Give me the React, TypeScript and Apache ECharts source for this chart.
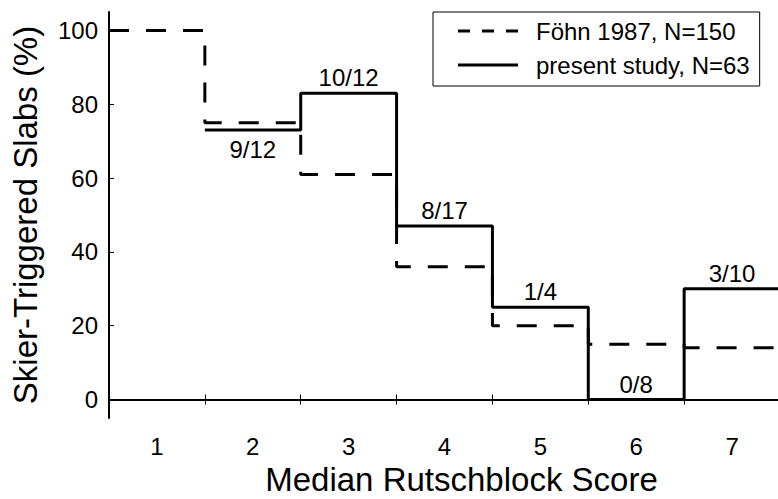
import React, { useEffect, useRef } from "react";
import * as echarts from "echarts";

const categories = [1, 2, 3, 4, 5, 6, 7];
const fohnValues = [100, 75, 61, 36, 20, 15, 14];
const studyValues: (number | null)[] = [null, 73, 83, 47, 25, 0, 30];
const fractionLabels = ["", "9/12", "10/12", "8/17", "1/4", "0/8", "3/10"];
const yTicks = [0, 20, 40, 60, 80, 100];
const xBoundaries = [1.5, 2.5, 3.5, 4.5, 5.5, 6.5];
const seriesNames = ["Föhn 1987, N=150", "present study, N=63"];

const FONT = "'Liberation Sans', Arial, Helvetica, sans-serif";
const DASH_ICON = "path://M0,0h12v3h-12z M24,0h12v3h-12z M48,0h12v3h-12z";
const SOLID_ICON = "path://M0,0h60v3h-60z";

function stepPoints(values: (number | null)[]) {
  const pts: [number, number][] = [];
  let last: number | null = null;
  values.forEach((v, i) => {
    if (v === null) return;
    pts.push([categories[i] - 0.5, v]);
    last = v;
  });
  if (last !== null) pts.push([categories[categories.length - 1] + 0.5, last]);
  return pts;
}

export default function App() {
  const ref = useRef<HTMLDivElement>(null);
  useEffect(() => {
    if (!ref.current) return;
    const chart = echarts.init(ref.current, undefined, { renderer: "svg" });
    const axisLine = { show: true, lineStyle: { color: "#000", width: 2 } };
    const tick = { show: true, inside: true, length: 5, lineStyle: { color: "#000", width: 1 } };
    const labelStyle = { fontSize: 24, fontFamily: FONT, color: "#000", opacity: 1 };
    const labelPoints = categories
      .map((c, i) => ({ c, v: studyValues[i], t: fractionLabels[i] }))
      .filter((d) => d.v !== null && d.t !== "")
      .map((d) => ({
        value: [d.c, d.v],
        label: {
          show: true,
          ...labelStyle,
          position: d.t === "9/12" ? "bottom" : "top",
          distance: d.t === "9/12" ? 7 : 3,
          formatter: d.t,
        },
      }));
    chart.setOption({
      animation: false,
      backgroundColor: "#fff",
      grid: {
        left: 109,
        top: 12,
        width: 671,
        height: 406,
        containLabel: false,
        outerBoundsMode: "none",
      },
      legend: {
        data: [
          { name: seriesNames[0], icon: DASH_ICON },
          { name: seriesNames[1], icon: SOLID_ICON },
        ],
        left: 433,
        top: 12,
        orient: "vertical",
        itemWidth: 62,
        itemHeight: 3,
        itemGap: 10,
        padding: [7, 10, 9, 25],
        borderColor: "#000",
        borderWidth: 1,
        borderRadius: 0,
        backgroundColor: "#fff",
        selectedMode: false,
        itemStyle: { color: "#000", borderWidth: 0 },
        lineStyle: { width: 0 },
        textStyle: { fontSize: 24, fontFamily: FONT, color: "#000", padding: [0, 0, 0, 12] },
      },
      xAxis: [
        {
          type: "value",
          min: 0.5,
          max: 7.5,
          position: "bottom",
          axisLine,
          axisTick: { ...tick, customValues: xBoundaries },
          splitLine: { show: false },
          axisLabel: {
            customValues: categories,
            margin: 16,
            fontSize: 24,
            fontFamily: FONT,
            color: "#000",
          },
          name: "Median Rutschblock Score",
          nameLocation: "middle",
          nameGap: 48,
          nameTextStyle: {
            fontSize: 33,
            lineHeight: 27,
            fontFamily: FONT,
            color: "#000",
            padding: [0, 0, 0, 34],
          },
        },
        {
          type: "value",
          min: 0.5,
          max: 7.5,
          position: "top",
          axisLine,
          axisTick: { ...tick, customValues: xBoundaries },
          splitLine: { show: false },
          axisLabel: { show: false },
        },
      ],
      yAxis: [
        {
          type: "value",
          min: -5,
          max: 105,
          position: "left",
          axisLine,
          axisTick: { ...tick, customValues: yTicks },
          splitLine: { show: false },
          axisLabel: {
            customValues: yTicks,
            margin: 11,
            fontSize: 24,
            fontFamily: FONT,
            color: "#000",
          },
          name: "Skier-Triggered Slabs (%)",
          nameLocation: "middle",
          nameGap: 67,
          nameTextStyle: { fontSize: 33, fontFamily: FONT, color: "#000" },
        },
        {
          type: "value",
          min: -5,
          max: 105,
          position: "right",
          axisLine,
          axisTick: { show: false },
          splitLine: { show: false },
          axisLabel: { show: false },
        },
      ],
      series: [
        {
          name: seriesNames[0],
          type: "line",
          step: "end",
          symbol: "none",
          data: stepPoints(fohnValues),
          lineStyle: { color: "#000", width: 3, type: [20, 17], cap: "butt" },
          itemStyle: { color: "#000" },
          z: 2,
        },
        {
          name: seriesNames[1],
          type: "line",
          step: "end",
          symbol: "none",
          data: stepPoints(studyValues),
          lineStyle: { color: "#000", width: 3, type: "solid" },
          itemStyle: { color: "#000" },
          z: 3,
        },
        {
          name: "labels",
          type: "scatter",
          symbolSize: 1,
          itemStyle: { color: "#000", opacity: 1 },
          data: labelPoints,
          label: { show: true, ...labelStyle },
          emphasis: { disabled: true },
          silent: true,
          z: 1,
        },
      ],
    });
    return () => chart.dispose();
  }, []);
  return (
    <div
      style={{
        position: "fixed",
        left: 0,
        top: 0,
        width: 778,
        height: 499,
        overflow: "hidden",
        background: "#fff",
      }}
    >
      <div ref={ref} style={{ width: 800, height: 499 }} />
    </div>
  );
}
